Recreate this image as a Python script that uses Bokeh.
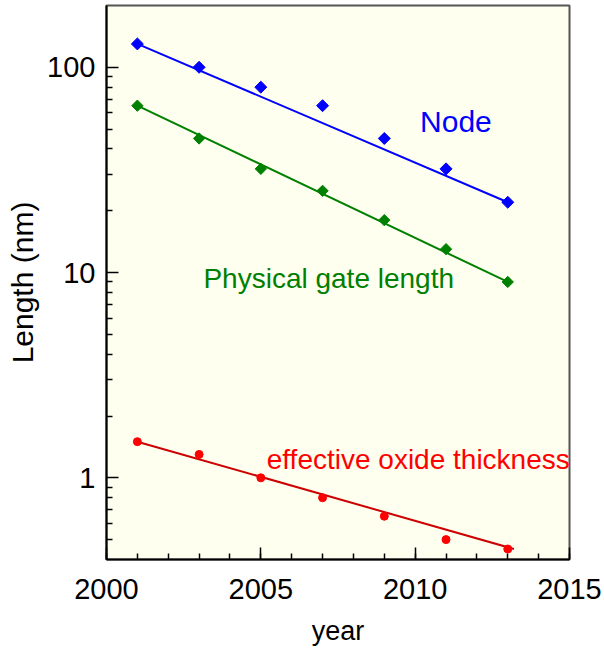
from bokeh.plotting import figure
from bokeh.models import FixedTicker, Label, ColumnDataSource
from bokeh.embed import file_html
from bokeh.resources import INLINE

# Technology roadmap data (lengths in nm)
years = [2001, 2003, 2005, 2007, 2009, 2011, 2013]
node = [130, 100, 80, 65, 45, 32, 22]
gate_length = [65, 45, 32, 25, 18, 13, 9]
oxide = [1.5, 1.3, 1.0, 0.8, 0.65, 0.5, 0.45]

# Exponential trend lines (end points)
node_trend_years = [2001, 2013]
node_trend = [130, 22]
gate_trend_years = [2001, 2013]
gate_trend = [65, 9]
oxide_trend_years = [2001, 2013.2]
oxide_trend = [1.5, 0.45]

x_major = [2000, 2005, 2010, 2015]
x_minor = list(range(2000, 2016))
y_major = [1, 10, 100]
y_minor = [0.5, 0.6, 0.7, 0.8, 0.9] + list(range(2, 10)) + list(range(20, 100, 10))

FONT = "Liberation Sans"

p = figure(
    frame_width=463, frame_height=554,
    min_border_left=106, min_border_right=35, min_border_top=5, min_border_bottom=89,
    x_range=(2000, 2015), y_range=(0.4, 200), y_axis_type="log",
    output_backend="svg", toolbar_location=None,
    background_fill_color="#FFFFF0", border_fill_color="white",
)
p.grid.visible = False
p.outline_line_color = "#555555"
p.outline_line_width = 2

src = ColumnDataSource(dict(year=years, node=node, gate=gate_length, oxide=oxide))

# Trend lines
p.line(node_trend_years, node_trend, line_color="#0000FF", line_width=2)
p.line(gate_trend_years, gate_trend, line_color="#008000", line_width=2)
p.line(oxide_trend_years, oxide_trend, line_color="#CC0000", line_width=2)

# Data points
p.scatter("year", "node", source=src, marker="square", angle=0.785398,
          size=8.5, fill_color="#0000FF", line_color="#0000FF")
p.scatter("year", "gate", source=src, marker="square", angle=0.785398,
          size=8, fill_color="#008000", line_color="#008000")
p.scatter("year", "oxide", source=src, marker="circle",
          size=8, fill_color="#FF0000", line_color="#FF0000")

# Series labels
for x, y, txt, col, fs in [
    (2011.32, 54.6, "Node", "#0000FF", "30px"),
    (2007.2, 9.35, "Physical gate length", "#008000", "28px"),
    (2010.1, 1.23, "effective oxide thickness", "#FF0000", "28px"),
]:
    p.add_layout(Label(x=x, y=y, text=txt, text_color=col, text_font=FONT,
                       text_font_size=fs, text_align="center",
                       text_baseline="alphabetic"))

# Axes
for ax in (p.xaxis[0], p.yaxis[0]):
    ax.axis_line_color = "black"
    ax.axis_line_width = 2
    ax.major_tick_line_color = "black"
    ax.minor_tick_line_color = "black"
    ax.major_tick_line_width = 1.5
    ax.minor_tick_line_width = 1.5
    ax.major_tick_in = 12
    ax.major_tick_out = 0
    ax.minor_tick_in = 6
    ax.minor_tick_out = 0
    ax.major_label_text_font = FONT
    ax.major_label_text_font_size = "29px"
    ax.major_label_text_color = "black"
    ax.axis_label_text_font = FONT
    ax.axis_label_text_font_style = "normal"
    ax.axis_label_text_color = "black"

p.xaxis.ticker = FixedTicker(ticks=x_major, minor_ticks=x_minor)
p.yaxis.ticker = FixedTicker(ticks=y_major, minor_ticks=y_minor)
p.xaxis.major_label_overrides = {v: str(v) for v in x_major}
p.yaxis.major_label_overrides = {1: "1", 10: "10", 100: "100"}

p.xaxis.axis_label = "year"
p.xaxis.axis_label_text_font_size = "27px"
p.xaxis.major_label_standoff = 19
p.xaxis.axis_label_standoff = 14

p.yaxis.axis_label = "Length (nm)"
p.yaxis.axis_label_text_font_size = "30px"
p.yaxis.major_label_standoff = 11
p.yaxis.axis_label_standoff = 5

open("out.html", "w").write(file_html(p, INLINE))
